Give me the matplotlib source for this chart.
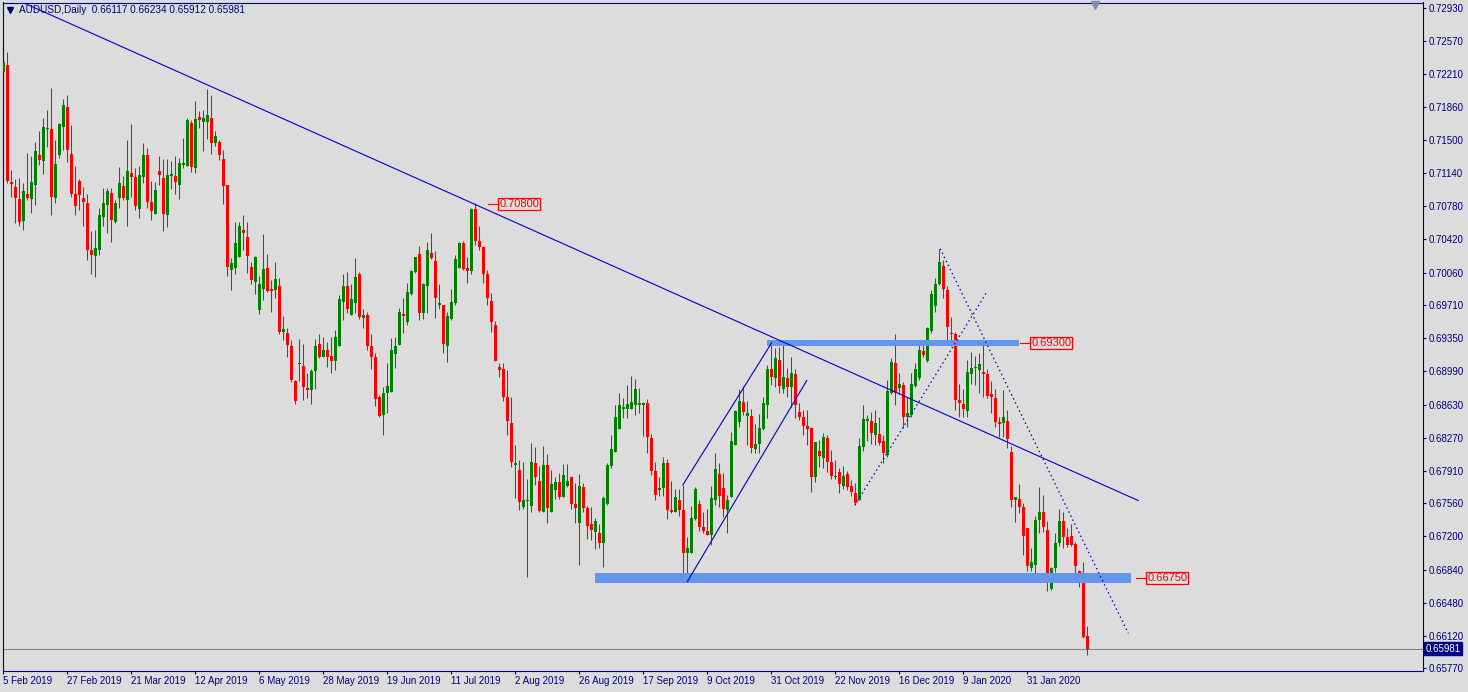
import numpy as np
import pandas as pd
import matplotlib
matplotlib.use("Agg")
from matplotlib import pyplot as plt
import matplotlib.transforms as mtransforms

# AUDUSD daily candles, prices in 1/10000, last bar added from the quote line
open_pts = [
    7224, 7231, 7104, 7099, 7086, 7062, 7091, 7086, 7101, 7133,
    7127, 7162, 7162, 7087, 7133, 7164, 7185, 7135, 7091, 7105,
    7087, 7081, 7031, 7024, 7030, 7066, 7079, 7092, 7061, 7087,
    7100, 7085, 7114, 7110, 7075, 7110, 7133, 7083, 7070, 7116,
    7109, 7068, 7111, 7111, 7101, 7123, 7122, 7168, 7119, 7175,
    7169, 7169, 7174, 7147, 7148, 7129, 7101, 7009, 7011, 7023,
    7052, 7045, 7012, 6996, 6966, 6988, 7011, 6988, 6987, 6991,
    6942, 6941, 6926, 6889, 6907, 6905, 6881, 6879, 6899, 6929,
    6915, 6922, 6916, 6910, 6927, 6974, 6991, 6960, 6973, 7004,
    6957, 6960, 6927, 6914, 6871, 6852, 6875, 6877, 6918, 6928,
    6961, 6953, 6983, 7007, 7026, 6962, 6992, 7027, 7019, 6971,
    6971, 6926, 6956, 6973, 7011, 7038, 7011, 7008, 7075, 7040,
    7034, 7004, 6975, 6949, 6904, 6901, 6871, 6843, 6797, 6792,
    6752, 6758, 6753, 6800, 6780, 6746, 6797, 6746, 6770, 6779,
    6763, 6775, 6785, 6755, 6735, 6774, 6751, 6733, 6725, 6724,
    6713, 6755, 6796, 6812, 6836, 6858, 6858, 6858, 6863, 6862,
    6862, 6865, 6827, 6791, 6770, 6772, 6800, 6749, 6747, 6760,
    6749, 6702, 6702, 6739, 6755, 6730, 6726, 6722, 6759, 6788,
    6773, 6749, 6763, 6819, 6844, 6866, 6851, 6851, 6815, 6820,
    6836, 6863, 6902, 6892, 6911, 6880, 6892, 6882, 6896, 6855,
    6850, 6840, 6838, 6785, 6813, 6805, 6827, 6801, 6785, 6790,
    6775, 6788, 6775, 6767, 6760, 6817, 6845, 6845, 6830, 6831,
    6823, 6808, 6875, 6908, 6881, 6884, 6850, 6852, 6883, 6892,
    6921, 6910, 6943, 6970, 6994, 7013, 6987, 6941, 6939, 6868,
    6864, 6856, 6896, 6903, 6900, 6898, 6896, 6874, 6870, 6844,
    6843, 6845, 6812, 6759, 6761, 6752, 6729, 6686, 6689, 6738,
    6746, 6727, 6663, 6686, 6713, 6737, 6719, 6720, 6712, 6683,
    6672,
]
high_pts = [
    7264, 7245, 7117, 7107, 7109, 7103, 7136, 7132, 7148, 7160,
    7174, 7182, 7206, 7150, 7168, 7194, 7199, 7166, 7122, 7108,
    7099, 7091, 7051, 7052, 7076, 7098, 7098, 7098, 7085, 7120,
    7111, 7150, 7167, 7119, 7122, 7147, 7141, 7105, 7104, 7132,
    7129, 7129, 7127, 7132, 7130, 7152, 7174, 7171, 7192, 7181,
    7182, 7205, 7199, 7159, 7150, 7139, 7101, 7022, 7061, 7061,
    7069, 7061, 7018, 7024, 7002, 7048, 7026, 6998, 7018, 7000,
    6959, 6946, 6933, 6890, 6934, 6929, 6897, 6901, 6934, 6939,
    6936, 6931, 6936, 6944, 6982, 7004, 7007, 6994, 7022, 7007,
    6967, 6963, 6939, 6919, 6873, 6882, 6908, 6935, 6936, 6968,
    6979, 6995, 7009, 7023, 7035, 6995, 7039, 7049, 7029, 6994,
    6971, 6963, 6988, 7025, 7039, 7040, 7023, 7076, 7081, 7057,
    7035, 7009, 6984, 6954, 6908, 6908, 6900, 6871, 6819, 6803,
    6801, 6782, 6821, 6817, 6796, 6818, 6809, 6792, 6785, 6789,
    6799, 6799, 6786, 6778, 6788, 6778, 6753, 6752, 6740, 6733,
    6764, 6800, 6830, 6862, 6876, 6870, 6884, 6894, 6891, 6881,
    6866, 6869, 6831, 6801, 6785, 6806, 6804, 6780, 6771, 6771,
    6776, 6719, 6753, 6774, 6760, 6746, 6750, 6775, 6811, 6800,
    6789, 6765, 6833, 6857, 6880, 6883, 6867, 6858, 6842, 6853,
    6871, 6906, 6930, 6924, 6925, 6928, 6903, 6914, 6901, 6865,
    6857, 6857, 6839, 6822, 6825, 6832, 6830, 6814, 6803, 6794,
    6796, 6791, 6781, 6778, 6827, 6862, 6852, 6855, 6857, 6849,
    6830, 6890, 6913, 6939, 6897, 6887, 6871, 6897, 6908, 6929,
    6930, 6947, 6987, 7000, 7032, 7020, 6991, 6958, 6942, 6885,
    6880, 6911, 6920, 6916, 6919, 6932, 6902, 6889, 6880, 6850,
    6879, 6857, 6818, 6763, 6777, 6756, 6729, 6708, 6742, 6774,
    6765, 6737, 6687, 6724, 6750, 6746, 6729, 6734, 6714, 6684,
    6692,
]
low_pts = [
    7193, 7103, 7088, 7060, 7056, 7052, 7085, 7071, 7079, 7123,
    7113, 7142, 7069, 7082, 7130, 7139, 7126, 7088, 7068, 7074,
    7057, 7020, 7004, 7001, 7025, 7056, 7049, 7039, 7060, 7076,
    7085, 7056, 7088, 7074, 7065, 7103, 7076, 7063, 7070, 7101,
    7051, 7055, 7097, 7091, 7086, 7119, 7122, 7115, 7114, 7163,
    7138, 7151, 7135, 7143, 7128, 7080, 7002, 6987, 7005, 7023,
    7030, 7006, 6994, 6983, 6961, 6976, 6985, 6963, 6979, 6940,
    6933, 6914, 6887, 6864, 6889, 6868, 6870, 6864, 6880, 6913,
    6914, 6904, 6897, 6900, 6926, 6955, 6962, 6960, 6962, 6956,
    6946, 6922, 6901, 6861, 6849, 6830, 6854, 6877, 6903, 6928,
    6941, 6949, 6982, 7006, 6955, 6956, 6962, 7021, 6957, 6967,
    6919, 6909, 6955, 6971, 7011, 7009, 6995, 7004, 7036, 7030,
    6995, 6971, 6942, 6910, 6893, 6867, 6830, 6795, 6762, 6749,
    6750, 6676, 6746, 6776, 6746, 6746, 6735, 6746, 6761, 6761,
    6763, 6774, 6750, 6735, 6689, 6747, 6717, 6716, 6706, 6708,
    6687, 6754, 6794, 6812, 6836, 6848, 6848, 6858, 6852, 6854,
    6829, 6811, 6787, 6760, 6764, 6764, 6739, 6745, 6746, 6742,
    6671, 6671, 6702, 6738, 6726, 6724, 6722, 6711, 6754, 6752,
    6741, 6724, 6763, 6819, 6839, 6852, 6819, 6810, 6811, 6810,
    6835, 6848, 6884, 6882, 6876, 6876, 6871, 6860, 6848, 6846,
    6830, 6819, 6768, 6779, 6795, 6794, 6790, 6782, 6782, 6767,
    6771, 6770, 6764, 6754, 6760, 6813, 6823, 6820, 6819, 6819,
    6800, 6806, 6874, 6863, 6874, 6838, 6839, 6850, 6882, 6890,
    6915, 6909, 6941, 6963, 6993, 6979, 6930, 6926, 6857, 6849,
    6850, 6850, 6885, 6884, 6876, 6871, 6870, 6854, 6839, 6828,
    6828, 6816, 6752, 6736, 6745, 6700, 6683, 6683, 6678, 6724,
    6725, 6661, 6662, 6681, 6710, 6707, 6709, 6710, 6676, 6665,
    6610,
]
close_pts = [
    7234, 7105, 7102, 7087, 7061, 7095, 7087, 7104, 7138, 7128,
    7164, 7163, 7088, 7124, 7167, 7188, 7139, 7091, 7078, 7090,
    7083, 7031, 7025, 7033, 7069, 7081, 7095, 7063, 7082, 7103,
    7087, 7116, 7110, 7078, 7112, 7134, 7083, 7073, 7096, 7112,
    7070, 7112, 7113, 7104, 7125, 7125, 7171, 7120, 7172, 7171,
    7174, 7177, 7147, 7154, 7134, 7100, 7012, 7016, 7038, 7056,
    7049, 7024, 6998, 7023, 6994, 7010, 6986, 6986, 6999, 6942,
    6945, 6928, 6890, 6867, 6908, 6882, 6879, 6899, 6927, 6915,
    6922, 6915, 6910, 6936, 6977, 6991, 6967, 6977, 7001, 6958,
    6960, 6927, 6915, 6869, 6851, 6875, 6883, 6922, 6926, 6963,
    6959, 6985, 7008, 7023, 6962, 6994, 7030, 7022, 6979, 6973,
    6929, 6959, 6974, 7021, 7038, 7010, 7008, 7075, 7040, 7034,
    7005, 6978, 6952, 6910, 6900, 6871, 6845, 6801, 6800, 6757,
    6759, 6760, 6801, 6784, 6748, 6797, 6751, 6777, 6779, 6763,
    6787, 6780, 6755, 6751, 6775, 6751, 6731, 6727, 6737, 6713,
    6762, 6798, 6815, 6850, 6863, 6860, 6864, 6866, 6880, 6865,
    6865, 6828, 6791, 6765, 6772, 6800, 6749, 6747, 6763, 6749,
    6702, 6708, 6740, 6771, 6730, 6726, 6722, 6762, 6793, 6764,
    6750, 6759, 6824, 6856, 6867, 6855, 6854, 6816, 6820, 6838,
    6865, 6901, 6893, 6913, 6883, 6893, 6882, 6897, 6863, 6849,
    6840, 6837, 6785, 6822, 6807, 6828, 6801, 6786, 6786, 6777,
    6786, 6774, 6768, 6756, 6818, 6847, 6847, 6832, 6843, 6821,
    6810, 6878, 6909, 6875, 6885, 6850, 6854, 6885, 6901, 6922,
    6917, 6946, 6983, 6994, 7017, 6988, 6947, 6939, 6868, 6865,
    6858, 6898, 6903, 6904, 6907, 6896, 6872, 6871, 6844, 6842,
    6849, 6826, 6759, 6763, 6752, 6720, 6688, 6692, 6738, 6747,
    6730, 6673, 6686, 6713, 6737, 6719, 6711, 6711, 6688, 6678,
    6611,
]
last_quote = [0.66117, 0.66234, 0.65912, 0.65981]  # open high low close of the last bar

opens = np.append(np.array(open_pts) / 10000, last_quote[0])
highs = np.append(np.array(high_pts) / 10000, last_quote[1])
lows = np.append(np.array(low_pts) / 10000, last_quote[2])
closes = np.append(np.array(close_pts) / 10000, last_quote[3])
n = len(closes)

# daily bars: weekdays only, no bars on christmas and new year
days = pd.bdate_range("2019-02-05", "2020-03-31")
days = days[~days.isin(pd.to_datetime(["2019-12-25", "2020-01-01"]))][:n]

# right hand price scale
price_ticks = [0.72930, 0.72570, 0.72210, 0.71860, 0.71500, 0.71140, 0.70780,
               0.70420, 0.70060, 0.69710, 0.69350, 0.68990, 0.68630, 0.68270,
               0.67910, 0.67560, 0.67200, 0.66840, 0.66480, 0.66120, 0.65770]

# drawn objects: (bar, price) anchor points
trend_main = [(2.0, 0.73044), (283.7, 0.6759)]
channel_up = [(169.9, 0.6776), (192.1, 0.6930)]
channel_low = [(171.0, 0.6671), (200.85, 0.6889)]
dot_rise = [(212.9, 0.6754), (245.9, 0.6985)]
dot_fall = [(234.2, 0.7032), (281.25, 0.6615)]
zones = [(190.9, 253.9, 0.69300, 0.00032), (147.9, 281.9, 0.66750, 0.00054)]
labels = [(121.2, 0.70800), (254.2, 0.69300), (283.2, 0.66750)]

BG = "#dcdcdc"
NAVY = "#000080"
BLUE = "#0000cd"
W, H = 1468, 692

plt.rcParams["font.family"] = ["Liberation Sans", "DejaVu Sans"]

fig = plt.figure(figsize=(W / 100, H / 100), dpi=100, facecolor=BG)
ax = fig.add_axes([2.5 / W, 1 - 670.7 / H, 1420 / W, 668.2 / H], facecolor=BG)

x = np.arange(n)
up = closes >= opens
col = np.where(up, "#008000", "#ff0000")

# candles
ax.vlines(x, lows, highs, colors=col, linewidth=0.75, zorder=2)
body = np.maximum(np.abs(closes - opens), 0.00008)
ax.bar(x, body, bottom=np.minimum(opens, closes), width=0.72,
       color=col, linewidth=0, zorder=3)

# zones
for x0, x1, lvl, half in zones:
    ax.fill_between([x0, x1], lvl - half, lvl + half, color="#6495ed",
                    linewidth=0, zorder=4)

# trendlines
for pts in [trend_main, channel_up, channel_low]:
    ax.plot([p[0] for p in pts], [p[1] for p in pts], color=BLUE, lw=0.8, zorder=5)
for pts in [dot_rise, dot_fall]:
    ax.plot([p[0] for p in pts], [p[1] for p in pts], color=BLUE, lw=0.9,
            linestyle=(0, (1.2, 2.4)), zorder=5)

# price labels
for bx, lvl in labels:
    ax.plot([bx, bx + 2.5], [lvl, lvl], color="red", lw=0.8, zorder=6)
    ax.text(bx + 2.8, lvl, f"{lvl:.5f}", color="red", fontsize=8,
            va="center", ha="left", zorder=6,
            bbox=dict(boxstyle="square,pad=0.1", fc="none", ec="red", lw=0.9))

# current price line and tag
ax.axhline(closes[-1], color="#778899", lw=0.8, zorder=1)
trans = mtransforms.blended_transform_factory(ax.transAxes, ax.transData)
ax.text(1 + 3 / 1420, closes[-1], f"{closes[-1]:.5f}", transform=trans,
        color="white", fontsize=7, va="center", ha="left", zorder=10, clip_on=False,
        bbox=dict(boxstyle="square,pad=0.15", fc=NAVY, ec=NAVY))

ax.set_xlim(-0.2, 354.8)
ax.set_ylim(0.65745, 0.72988)

# axes look
for s in ax.spines.values():
    s.set_color(NAVY)
    s.set_linewidth(0.8)
ax.yaxis.tick_right()
ax.set_yticks(price_ticks)
ax.set_yticklabels([f"{v:.5f}" for v in price_ticks])
ax.tick_params(axis="y", direction="out", length=2.4, width=0.8, colors=NAVY,
               labelsize=7, pad=2)
tick_pos = list(range(0, n, 16))
ax.set_xticks(tick_pos)
ax.set_xticklabels([f"{days[i].day} {days[i]:%b %Y}" for i in tick_pos])
for t in ax.get_xticklabels():
    t.set_ha("left")
ax.tick_params(axis="x", direction="out", length=2.4, width=0.8, colors=NAVY,
               labelsize=7, pad=1.5)

# header
fig.text(19 / W, 1 - 10 / H,
         "AUDUSD,Daily  " + " ".join(f"{v:.5f}" for v in last_quote),
         color=NAVY, fontsize=7.2, va="center", ha="left")
fig.lines.append(plt.Line2D([10 / W], [1 - 10 / H], marker="v", ms=4.5, color=NAVY,
                            transform=fig.transFigure))
ax.plot([0.7694], [1 - 2.5 / 668], marker="v", ms=5.5, color="#7b8caa",
        transform=ax.transAxes, clip_on=False, zorder=10)

plt.savefig("out.png", dpi=100, facecolor=BG)
